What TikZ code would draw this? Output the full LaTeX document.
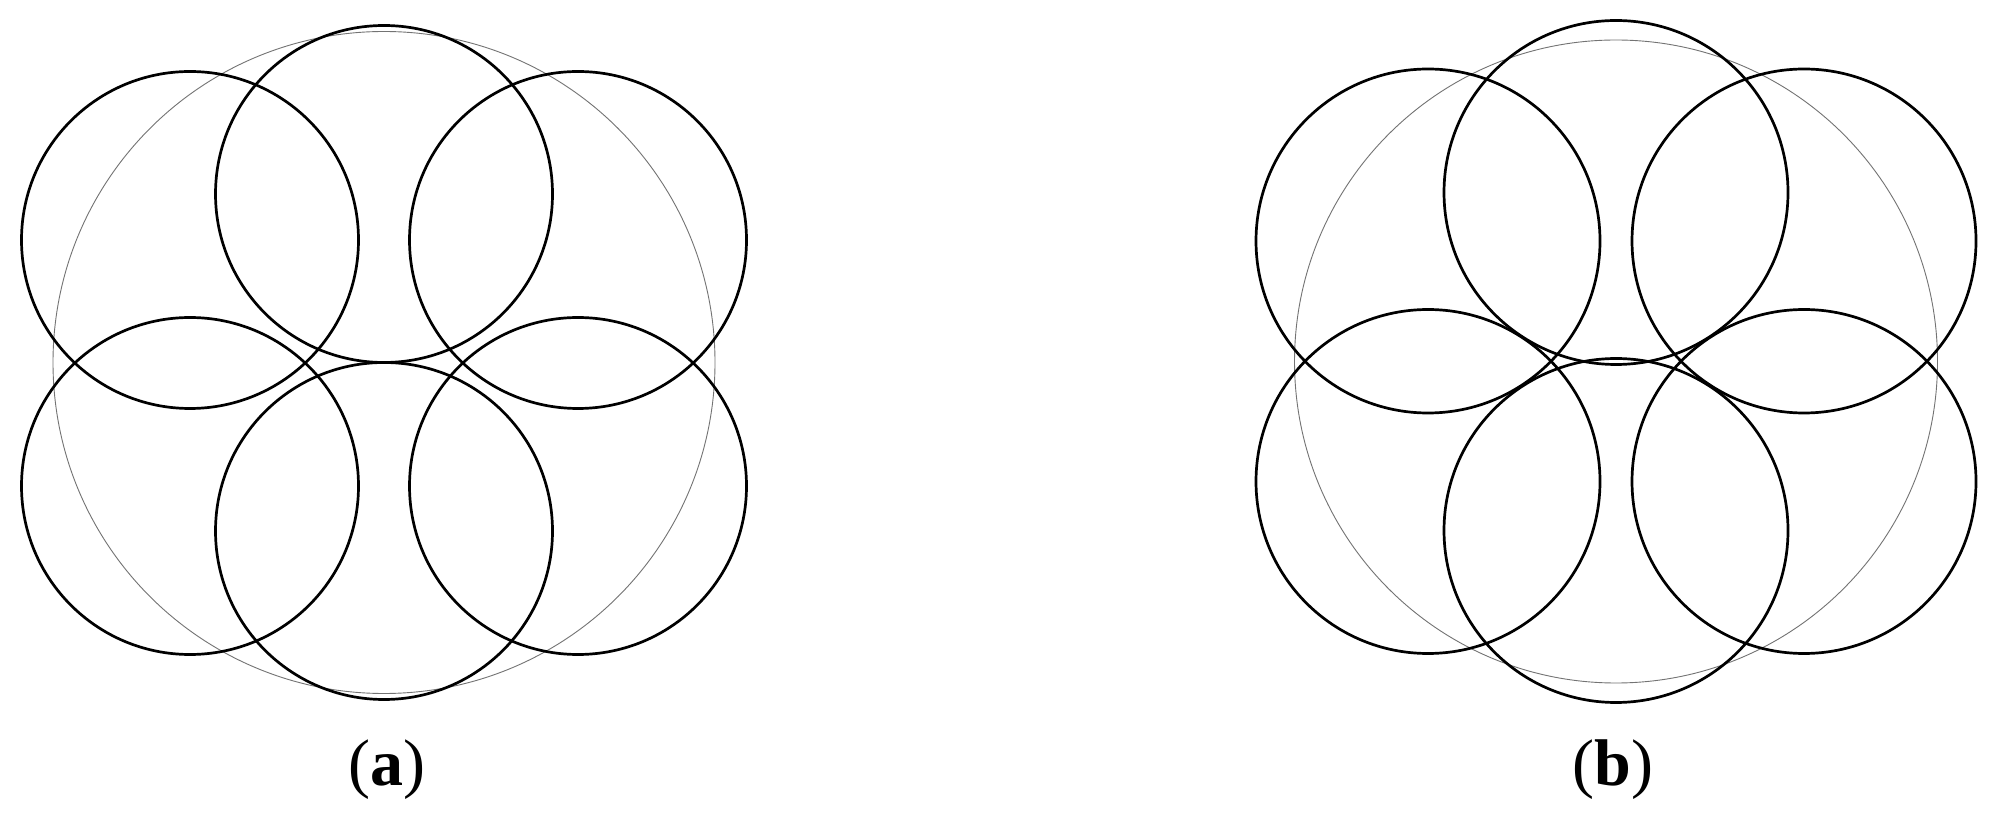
\documentclass[tikz,border=0pt]{standalone}
\usepackage{fontspec}
\setmainfont{Liberation Serif}
\tikzset{
  guide/.style={draw=black!55, line width=0.45pt},
  ring/.style={draw=black, line width=1.35pt},
  caption/.style={anchor=base, inner sep=0pt, font=\fontsize{33}{40}\selectfont}
}
\begin{document}
\begin{tikzpicture}[x=0.5pt, y=-0.5pt]
\useasboundingbox[fill=white] (0,0) rectangle (2000,822);
% panel (a)
\draw[guide] (384,362.5) circle[radius=165.5pt];
\foreach \cx/\cy in {190/240, 384/194, 578/240, 190/486, 384/531, 578/486}
  \draw[ring] (\cx,\cy) circle[radius=84.25pt];
\node[caption] (capa) at (387,785) {(\textbf{a})};
% panel (b)
\draw[guide] (1616,361.5) circle[radius=160.75pt];
\foreach \cx/\cy in {1428/241, 1616/192.5, 1804/241, 1428/481.5, 1616/530.5, 1804/481.5}
  \draw[ring] (\cx,\cy) circle[radius=86pt];
\node[caption] (capb) at (1613,785) {(\textbf{b})};
\end{tikzpicture}
\end{document}
